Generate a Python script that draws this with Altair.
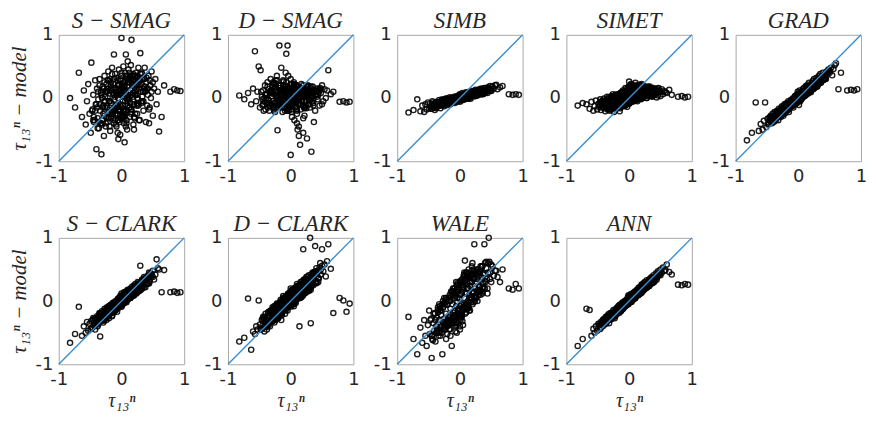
import altair as alt
import pandas as pd

# shared abscissa: normalised true stress tau_13^n (read from the clouds)
tau13 = [
    -.82, -.74, -.68, -.63, -.60, -.57, -.55, -.53, -.51, -.49,
    -.48, -.46, -.45, -.44, -.42, -.41, -.40, -.39, -.38, -.37,
    -.36, -.35, -.34, -.33, -.32, -.31, -.30, -.29, -.28, -.27,
    -.27, -.26, -.25, -.24, -.23, -.22, -.21, -.20, -.20, -.19,
    -.18, -.17, -.16, -.16, -.15, -.14, -.13, -.12, -.12, -.11,
    -.10, -.09, -.08, -.08, -.07, -.06, -.05, -.05, -.04, -.03,
    -.02, -.02, -.01, .00, .00, .01, .02, .02, .03, .04,
    .05, .05, .06, .07, .08, .08, .09, .10, .11, .12,
    .12, .13, .14, .15, .16, .16, .17, .18, .19, .20,
    .21, .22, .23, .24, .25, .26, .27, .28, .29, .30,
    .31, .32, .33, .34, .35, .36, .38, .39, .40, .42,
    .43, .45, .46, .48, .50, .52, .54, .56, .60, .64,
    .78, .84, .89, .94, -.05, .00, .10, -.15, .20, .05,
    -.30, -.25, -.22, -.18, -.14, -.10, -.07, -.04, -.01, .01,
    .03, .06, .09, .11, .14, .17, .20, .23, .26, .30,
    -.35, -.28, -.20, -.12, -.06, .00, .07, .13, .19, .25,
    .33, .37, .41, .47, -.43, -.38, .44, .50, .58, .68,
    -.44, -.40, -.36, -.32, -.29, -.26, -.23, -.21, -.19, -.17,
    -.15, -.13, -.11, -.09, -.08, -.06, -.04, -.03, -.02, .00,
    .01, .02, .04, .05, .07, .08, .10, .11, .13, .15,
    .16, .18, .20, .22, .24, .26, .28, .31, .34, .37,
    -.33, -.27, -.24, -.17, -.13, -.09, -.05, -.01, .03, .06,
    .09, .12, .15, .19, .22, .27, .32, .36, .40, .45,
    -.39, -.31, -.25, -.16, -.10, -.03, .04, .10, .17, .24,
    .29, .35, .42, .48, -.47, -.22, -.07, .02, .14, .21,
    -.42, -.37, -.33, -.30, -.27, -.24, -.22, -.19, -.16, -.14,
    -.12, -.10, -.08, -.06, -.04, -.02, .00, .02, .04, .06,
    .08, .10, .12, .14, .16, .18, .21, .24, .27, .30,
    .33, .36, .40, .44, -.35, -.26, -.18, -.09, -.03, .03,
    .09, .15, .22, .28, .35, -.45, -.31, -.21, -.11, .01,
    .07, .13, .19, .25, .32, .38, -.24, -.14, -.05, .05,
]

s_smag = [
    .00, -.15, .40, -.30, .12, -.42, -.05, .22, -.25, -.55,
    .56, -.18, .05, -.38, .28, -.10, -.81, .15, -.32, -.02,
    -.48, .30, -.20, .08, -.89, -.35, .18, -.12, -.60, .35,
    -.28, .02, -.45, .22, -.15, -.38, .42, -.05, -.22, .12,
    -.52, .25, -.08, -.32, .38, -.18, .05, .69, -.40, .15,
    -.25, .10, -.45, .32, -.12, .20, -.35, .00, .45, -.20,
    .28, -.58, .08, -.15, .35, -.30, .15, -.05, .50, -.40,
    .20, -.22, .40, .69, -.35, .05, .30, -.12, .45, -.02,
    .25, -.30, .12, .52, .92, -.18, .35, .02, -.42, .30,
    .18, -.25, .40, .05, .32, -.10, .48, .15, -.35, .71,
    .22, -.05, .38, .10, -.20, .30, .12, -.38, .25, .05,
    .35, -.15, .20, .42, -.28, .15, .30, -.10, -.53, -.30,
    .10, .14, .12, .11, -.65, .95, .58, .48, -.50, -.70,
    .10, -.40, .28, -.05, -.25, .38, -.15, .22, -.32, .05,
    -.18, .12, -.50, .30, -.08, .20, -.30, .28, .00, .38,
    -.10, .15, -.30, .05, -.55, .18, -.20, .40, .08, -.25,
    .02, .48, -.12, .00, -.35, -.48, -.40, .25, .10, .20,
    -.30, -.10, -.38, .05, -.25, -.15, .10, -.32, -.05, .20,
    -.22, .08, -.35, .15, -.10, .28, -.18, .05, -.28, .12,
    .18, -.12, .25, -.25, .08, .35, -.05, .20, -.15, .30,
    .05, .28, -.10, .35, .15, -.02, .25, .10, .32, .18,
    -.40, -.05, .12, -.30, .22, -.12, .00, .30, -.20, .10,
    -.02, .25, -.18, .38, .10, .20, -.08, .30, .15, .28,
    -.15, -.42, .10, -.22, .02, -.38, .18, .00, .22, -.12,
    .30, -.05, .15, .10, -.20, .15, -.25, .08, -.08, .35,
    -.20, .10, -.40, -.15, .25, -.30, .00, -.45, .15, -.25,
    .30, -.20, .05, -.35, .20, -.10, .40, -.28, .10, -.05,
    -.40, .25, -.15, .35, -.22, .08, -.32, .20, -.12, .28,
    -.05, .15, .32, -.18, .20, -.05, .30, -.42, .12, -.30,
    .35, -.25, .05, -.35, .10, -.35, .00, .28, -.15, .22,
    -.45, .02, .25, -.08, .40, .10, -.12, .15, -.20, -.30,
]

d_smag = [
    .04, -.02, .08, -.10, .15, .74, -.05, .10, .50, -.15,
    .44, .02, -.12, .12, -.06, .20, -.18, .05, -.09, .25,
    -.02, .14, -.20, .08, .30, -.10, .03, .18, -.14, .06,
    .22, -.08, .12, -.16, .04, .35, -.51, .09, -.04, .16,
    .83, -.12, .07, .20, -.03, .12, -.22, .02, .28, -.07,
    .10, -.15, .40, .05, .70, -.05, .18, -.20, .08, .00,
    -.12, .15, -.02, -.90, .22, .04, -.30, .10, -.08, .17,
    -.05, .12, -.35, .06, -.14, .20, .02, -.25, .09, -.08,
    .14, -.45, .03, -.74, .10, -.18, .22, -.03, .08, -.12,
    .05, -.28, .16, -.06, .11, -.64, .02, .19, -.10, .07,
    -.15, .13, -.85, .04, .18, -.08, .10, -.20, .06, .15,
    -.02, .12, -.12, .08, .20, -.05, .14, .00, .44, .06,
    -.06, -.05, -.07, -.06, .83, .30, -.40, .48, -.55, .25,
    .10, -.22, .28, .00, -.10, .15, -.05, .35, .06, -.18,
    .12, -.08, .20, -.50, .04, .14, -.32, .09, .18, -.04,
    -.08, .25, .01, -.14, .09, .12, .05, -.60, .15, .10,
    .02, -.38, .10, .16, -.20, .07, .05, -.10, .12, .10,
    -.10, .05, -.15, .10, -.05, .15, -.12, .02, .20, -.08,
    .05, -.10, .12, -.03, .18, -.15, .08, -.06, .14, .00,
    -.12, .10, -.04, .16, -.08, .06, -.18, .12, .02, -.10,
    .15, -.05, .20, .02, -.12, .10, .04, .16, -.06, .12,
    .08, -.14, .18, -.06, .10, -.20, .02, .12, -.10, .22,
    -.06, .14, .00, .10, -.15, .08, .18, -.02, .06, .10,
    .00, .12, -.08, .06, -.15, .10, .02, -.20, .16, .05,
    -.10, .08, .02, .14, .10, .00, .25, -.12, .06, -.05,
    .00, .18, -.12, .08, -.18, .22, .04, -.08, .12, -.15,
    .20, -.04, .10, -.18, .15, .05, -.12, .22, -.06, .12,
    -.15, .08, .18, -.10, .02, .16, -.14, .06, .20, -.02,
    .10, -.12, .04, .14, -.04, .24, -.10, .18, -.20, .08,
    -.08, .12, -.16, .04, .10, -.02, .12, -.14, .26, -.22,
    .16, -.02, .06, -.16, .00, .10, .28, .06, -.10, .20,
]

simb = [
    -.23, -.19, -.02, -.21, -.12, -.22, -.10, -.18, -.07, -.16,
    -.09, -.17, -.12, -.05, -.15, -.11, -.19, -.08, -.13, -.06,
    -.14, -.07, -.11, -.03, -.09, -.16, -.06, -.10, -.02, -.12,
    -.08, -.03, -.13, -.05, -.09, -.01, -.07, -.11, -.04, -.06,
    -.02, -.08, -.05, .01, -.10, -.03, -.06, .00, -.07, -.02,
    -.05, .02, -.03, -.08, .01, -.04, -.01, -.06, .03, -.02,
    .04, -.03, .01, -.06, .06, .00, -.04, .03, -.01, .08,
    .02, -.03, .05, .00, .07, -.02, .04, .09, .01, .05,
    .08, .00, .05, .10, .02, .06, -.01, .07, .11, .04,
    .09, .03, .11, .06, .13, .04, .08, .12, .05, .10,
    .14, .07, .10, .15, .06, .12, .09, .16, .11, .13,
    .10, .17, .13, .19, .12, .18, .15, .20, .14, .17,
    .06, .05, .06, .05, -.04, .02, .05, -.06, .08, .00,
    -.05, -.10, -.02, -.07, -.01, -.04, .02, -.05, .03, -.02,
    .03, .06, -.01, .07, .02, .09, .05, .10, .04, .11,
    -.12, -.04, -.09, .00, -.05, .05, .01, .06, .09, .05,
    .12, .06, .16, .15, -.07, -.16, .08, .11, .21, .19,
    -.12, -.09, -.13, -.06, -.10, -.04, -.08, -.03, -.07, -.02,
    -.06, -.01, -.05, .00, -.04, .01, -.03, .02, -.02, .03,
    -.01, .04, .00, .05, .01, .06, .02, .07, .03, .08,
    .02, .07, .04, .09, .05, .10, .06, .12, .08, .13,
    -.11, -.05, -.09, -.06, -.01, -.05, .00, -.03, .04, .01,
    .04, .01, .06, .03, .08, .05, .10, .07, .12, .11,
    -.08, -.12, -.03, -.09, -.02, .00, .02, .00, .06, .03,
    .11, .08, .14, .13, -.14, -.06, -.05, .03, .01, .08,
    -.15, -.08, -.12, -.05, -.10, -.03, -.09, -.02, -.08, -.01,
    -.06, .00, -.05, .01, -.04, .02, -.03, .04, -.02, .05,
    -.01, .06, .00, .07, .02, .08, .03, .10, .05, .11,
    .06, .13, .08, .15, -.12, -.04, -.09, .00, -.04, .04,
    .06, .00, .09, .04, .13, -.17, -.06, -.01, -.06, .02,
    .05, -.01, .08, .03, .12, .07, -.09, -.02, -.04, .00,
]

simet = [
    -.12, -.08, -.10, -.17, -.06, -.20, -.13, -.04, -.18, -.09,
    -.14, -.02, -.19, -.10, -.06, -.15, -.01, -.12, -.21, -.07,
    -.03, -.16, -.09, -.13, .01, -.20, -.06, -.11, .03, -.15,
    -.08, -.01, -.14, -.22, -.05, .04, -.10, -.17, .02, -.07,
    -.12, .06, -.03, -.09, .00, -.16, .08, -.05, -.11, .03,
    -.06, .10, -.01, -.13, .05, -.08, .14, -.03, .01, -.10,
    .07, -.05, .17, .02, -.09, .11, .04, -.02, .21, .00,
    .09, -.06, .13, .03, .18, -.01, .08, .24, .05, -.03,
    .12, .02, .16, .07, -.02, .10, .19, .04, .14, .01,
    .08, .15, .03, .11, .17, .06, .13, .00, .10, .16,
    .05, .12, .18, .08, .14, .03, .11, .16, .07, .13,
    .09, .15, .04, .12, .10, .14, .06, .11, .08, .13,
    .02, .03, .01, .02, -.10, .26, .20, -.21, .22, .16,
    -.02, -.12, .05, -.07, -.14, .03, -.04, .12, -.08, .06,
    -.04, .08, .15, -.01, .06, .20, .09, .02, .12, .05,
    .02, -.18, -.07, .09, -.12, -.06, .15, -.05, .09, .18,
    .15, .02, .07, .16, -.05, -.13, .10, .03, .09, .05,
    -.15, -.05, -.11, -.18, -.02, -.09, -.14, .00, -.07, -.12,
    .04, -.08, -.01, -.12, .07, -.04, .11, -.07, .02, .15,
    -.03, .09, .00, .13, -.05, .06, .17, .02, .10, .05,
    .13, -.01, .09, .15, .04, .12, .07, .15, .10, .06,
    -.12, -.04, -.16, .00, -.08, .06, -.02, .09, -.06, .19,
    .02, .11, .06, .12, .00, .09, .13, .06, .10, .12,
    -.08, -.14, .02, -.06, .03, .08, -.04, .12, .04, .09,
    .03, .10, .06, .09, -.11, -.03, -.09, .14, .08, .14,
    -.04, -.13, -.01, -.10, .02, -.15, -.03, .05, -.12, .08,
    -.07, .12, -.02, .16, -.09, .05, .19, -.05, .10, -.04,
    .14, -.02, .18, .06, .21, .00, .12, .17, .03, .18,
    .10, .04, .14, .01, -.18, .06, -.06, .02, -.14, .22,
    -.04, .08, .20, .00, .16, -.06, -.15, .05, -.12, -.08,
    .12, .06, -.02, .15, .09, .04, -.12, .04, -.09, .10,
]

grad = [
    -.67, -.55, -.07, -.52, -.41, -.50, -.36, -.07, -.46, -.33,
    -.42, -.31, -.36, -.28, -.40, -.25, -.34, -.38, -.22, -.35,
    -.24, -.33, -.20, -.29, -.35, -.17, -.27, -.21, -.30, -.15,
    -.26, -.13, -.21, -.28, -.16, -.10, -.24, -.19, -.09, -.20,
    -.08, -.19, -.12, -.05, -.22, -.10, -.15, -.03, -.13, -.06,
    -.12, -.01, -.09, -.15, -.04, .02, -.10, -.06, .04, -.03,
    .05, -.08, .10, -.02, .07, -.11, .03, .12, -.05, .08,
    .10, -.02, .06, .14, .02, .09, .16, .05, .12, .19,
    .06, .18, .11, .21, .08, .15, .24, .12, .17, .09,
    .22, .14, .27, .19, .30, .16, .25, .21, .32, .18,
    .29, .23, .35, .27, .38, .24, .33, .40, .28, .36,
    .31, .42, .37, .45, .40, .48, .36, .46, .55, .14,
    .12, .13, .12, .14, -.08, .06, .03, -.18, .13, .09,
    -.29, -.18, -.23, -.11, -.16, -.05, -.09, .01, -.03, .04,
    .00, .08, .11, .04, .13, .19, .12, .23, .17, .26,
    -.31, -.26, -.14, -.07, -.02, .01, .10, .13, .20, .18,
    .30, .33, .31, .41, -.32, -.29, .39, .43, .52, .40,
    -.38, -.30, -.33, -.22, -.27, -.18, -.22, -.14, -.19, -.12,
    -.15, -.07, -.12, -.04, -.09, -.02, -.06, .01, -.05, .03,
    -.03, .05, .00, .07, .02, .10, .05, .12, .08, .15,
    .10, .17, .13, .20, .16, .23, .19, .27, .24, .32,
    -.28, -.19, -.24, -.11, -.14, -.04, -.08, .02, -.01, .08,
    .04, .13, .08, .18, .14, .25, .22, .31, .29, .39,
    -.34, -.22, -.23, -.08, -.11, .02, -.02, .11, .10, .22,
    .20, .31, .30, .42, -.41, -.14, -.03, .04, .09, .15,
    -.30, -.35, -.22, -.29, -.17, -.24, -.12, -.20, -.08, -.15,
    -.05, -.13, -.02, -.09, .01, -.06, .04, -.04, .08, .00,
    .11, .04, .15, .06, .18, .10, .21, .14, .26, .19,
    .31, .25, .36, .30, -.22, -.26, -.10, -.12, .03, -.02,
    .12, .08, .23, .19, .32, -.31, -.20, -.22, -.05, .05,
    .02, .15, .11, .23, .22, .34, -.15, -.16, .03, .01,
]

s_clark = [
    -.66, -.52, -.09, -.55, -.40, -.50, -.33, -.47, -.36, -.44,
    -.31, -.42, -.27, -.38, -.45, -.30, -.35, -.24, -.40, -.28,
    -.33, -.19, -.56, -.25, -.30, -.16, -.27, -.34, -.20, -.23,
    -.12, -.26, -.18, -.30, -.10, -.22, -.16, -.27, -.08, -.19,
    -.20, -.06, -.15, -.11, -.24, -.03, -.13, -.18, -.07, -.10,
    -.14, .00, -.09, -.04, -.17, .03, -.07, -.11, .05, -.02,
    .08, -.06, .02, .12, -.09, .05, -.03, .10, .00, .14,
    .01, .11, .07, .15, -.02, .09, .13, .04, .17, .06,
    .14, .05, .19, .10, .22, .08, .16, .12, .24, .11,
    .20, .27, .13, .23, .18, .30, .15, .26, .21, .56,
    .28, .19, .34, .26, .31, .38, .22, .35, .29, .40,
    .37, .31, .44, .39, .48, .34, .42, .66, .50, .14,
    .14, .15, .13, .14, -.01, -.08, .18, -.23, .09, .02,
    -.30, -.15, -.21, -.07, -.12, -.05, -.10, .02, -.04, .06,
    .06, .01, .10, .14, .07, .17, .22, .13, .25, .20,
    -.24, -.31, -.13, -.02, -.06, -.01, .08, .16, .12, .25,
    .27, .33, .36, .41, -.37, -.26, .45, .38, .52, .49,
    -.39, -.28, -.34, -.20, -.28, -.16, -.22, -.12, -.20, -.09,
    -.17, -.06, -.13, -.02, -.10, .00, -.08, .04, -.05, .06,
    -.04, .07, .00, .09, .02, .12, .04, .14, .07, .17,
    .09, .19, .12, .22, .15, .25, .18, .29, .23, .34,
    -.31, -.17, -.25, -.09, -.15, -.03, -.09, .05, -.02, .10,
    .03, .15, .08, .20, .13, .27, .21, .33, .27, .41,
    -.36, -.20, -.24, -.06, -.12, .03, -.03, .13, .08, .24,
    .17, .32, .28, .43, -.42, -.13, -.01, .06, .05, .21,
    -.28, -.37, -.20, -.30, -.16, -.24, -.12, -.21, -.07, -.17,
    -.03, -.14, .00, -.09, .03, -.07, .06, -.05, .09, -.01,
    .12, .02, .16, .05, .19, .09, .23, .12, .28, .17,
    .33, .22, .38, .28, -.20, -.28, -.08, -.14, .05, -.04,
    .13, .06, .24, .16, .34, -.29, -.18, -.24, -.03, .05,
    .00, .16, .09, .25, .19, .36, -.12, -.18, .04, -.01,
]

d_clark = [
    -.64, -.58, .04, -.77, -.48, -.52, -.40, -.45, .01, -.37,
    -.44, -.30, -.39, -.25, -.48, -.33, -.20, -.41, -.29, -.36,
    -.18, -.34, -.24, -.40, -.15, -.29, -.22, -.10, -.31, -.26,
    -.25, -.08, -.19, -.30, -.12, -.04, -.22, -.16, -.27, -.09,
    -.03, -.18, -.10, .02, -.21, -.07, -.14, .05, -.11, -.01,
    -.12, .04, -.08, -.15, .07, -.02, -.10, .10, -.05, .01,
    .12, -.06, .05, .15, -.09, .08, -.02, .18, .03, .10,
    .02, .16, .09, .21, -.03, .12, .19, .06, .24, .11,
    .08, .22, -.40, .17, .27, .12, .20, .31, .15, .82,
    .26, .18, .33, .22, .38, .15, .30, .25, .41, .20,
    1.0, -.35, .37, .28, .44, .33, .46, .87, .31, .40,
    .48, .36, .53, .42, .82, .47, .58, .39, .90, .51,
    .05, .01, -.17, -.04, -.15, .20, .27, -.30, .10, -.08,
    -.15, -.23, -.06, -.20, .00, -.13, .06, -.07, .11, -.03,
    .14, .00, .17, .05, .25, .10, .29, .16, .34, .22,
    -.38, -.14, -.24, .08, -.04, .14, .03, .20, .26, .35,
    .30, .45, .52, .60, -.28, -.45, .36, .56, .63, -.19,
    -.42, -.28, -.35, -.19, -.30, -.13, -.24, -.08, -.22, -.06,
    -.18, -.02, -.14, .02, -.11, .05, -.08, .09, -.04, .11,
    -.05, .13, -.01, .15, .03, .18, .05, .20, .08, .24,
    .08, .25, .13, .29, .16, .31, .20, .36, .26, .42,
    -.33, -.16, -.28, -.06, -.17, .00, -.10, .10, -.02, .14,
    .02, .19, .08, .25, .12, .33, .22, .40, .28, .47,
    -.38, -.19, -.27, -.03, -.14, .07, -.05, .18, .06, .30,
    .16, .38, .29, .50, -.45, -.11, .01, .10, .05, .27,
    -.25, -.40, -.16, -.33, -.11, -.29, -.07, -.25, -.01, -.19,
    .04, -.14, .07, -.10, .12, -.05, .15, -.03, .19, .02,
    .20, .03, .24, .07, .30, .10, .34, .13, .39, .18,
    .42, .25, .47, .30, -.17, -.34, -.03, -.20, .10, -.06,
    .22, .05, .33, .17, .45, -.29, -.15, -.27, .02, .09,
    -.02, .24, .08, .33, .18, .44, -.09, -.22, .08, -.03,
]

wale = [
    -.25, -.60, -.84, -.42, -.66, -.30, -.55, -.71, -.38, -.15,
    -.52, -.28, -.90, -.60, -.35, -.47, -.19, -.64, -.40, -.26,
    -.45, -.14, -.55, -.30, -.08, -.41, -.22, -.50, -.84, -.33,
    -.10, -.38, -.28, -.02, -.45, -.20, -.32, -.06, -.52, -.25,
    -.35, .02, -.22, -.44, -.12, .08, -.71, -.27, -.05, -.18,
    .12, -.30, -.15, .05, -.40, -.08, .18, -.22, -.01, -.35,
    -.12, .20, .04, -.28, .10, -.18, .25, -.05, .15, -.32,
    .22, -.10, .30, .05, .64, -.20, .14, .35, -.06, .20,
    .28, .00, .38, .10, -.15, .24, .42, .06, .31, .15,
    .12, .36, .90, .20, .45, .05, .30, .50, .18, .40,
    .25, .48, .15, .38, .55, .22, .44, .90, .32, .52,
    .35, .60, 1.0, .45, .30, .55, .40, .48, .38, .30,
    .20, .18, .27, .20, -.50, -.40, .45, -.55, .60, -.38,
    -.15, -.45, .05, -.38, .15, -.25, -.48, .28, -.20, .32,
    -.22, .40, -.08, .12, .50, .02, -.05, .35, .10, .15,
    -.18, -.05, -.40, .15, .30, -.45, .45, -.12, .55, .05,
    .10, .42, .30, .62, -.62, -.50, .12, .58, .48, .50,
    -.55, -.20, -.48, -.12, -.40, -.05, -.35, .02, -.30, -.45,
    .00, -.30, .10, -.22, .15, -.38, .05, -.15, .22, -.08,
    -.25, .12, -.15, .28, -.05, .32, -.18, .20, .38, -.02,
    .30, .05, .40, .15, .48, .08, .35, .22, .50, .28,
    -.50, -.10, -.42, .00, -.32, .10, -.25, .18, -.12, .25,
    -.10, .40, .05, .30, -.02, .42, .15, .55, .20, .45,
    -.30, -.55, .05, -.30, .20, -.20, .30, -.10, .40, .00,
    .45, .15, .62, .35, -.30, -.60, .08, -.22, .20, .35,
    -.20, -.50, -.05, -.45, .00, -.40, .05, -.35, .10, -.30,
    .15, -.25, .20, -.35, .25, -.15, .30, -.20, .35, -.10,
    .40, -.05, .45, -.10, .38, -.02, .42, .05, .50, .10,
    .55, .12, .60, .20, -.10, -.45, .05, -.35, .15, -.25,
    .35, -.15, .50, .00, .55, -.55, -.15, -.05, .20, -.30,
    .42, -.10, .48, .08, .45, .20, -.05, -.35, .25, -.15,
]

ann = [
    -.71, -.60, -.12, -.14, -.55, -.44, -.50, -.40, -.47, -.36,
    -.38, -.44, -.33, -.41, -.30, -.39, -.28, -.36, -.32, -.25,
    -.33, -.24, -.30, -.21, -.35, -.26, -.19, -.29, -.22, -.27,
    -.18, -.25, -.14, -.22, -.27, -.15, -.20, -.11, -.21, -.13,
    -.17, -.08, -.14, -.19, -.06, -.12, -.16, -.04, -.10, -.13,
    -.02, -.11, -.05, -.09, .00, -.07, -.01, -.06, .02, -.04,
    .06, -.03, .09, .01, .05, -.02, .08, .03, .11, .04,
    .03, .10, .07, .13, .05, .11, .15, .08, .13, .17,
    .11, .18, .14, .21, .12, .19, .16, .23, .15, .20,
    .25, .19, .28, .22, .30, .24, .27, .33, .23, .31,
    .27, .34, .30, .36, .32, .38, .29, .41, .35, .37,
    .44, .38, .47, .42, .50, .45, .53, .48, .58, .46,
    .26, .25, .27, .26, -.06, .08, .05, -.17, .26, .04,
    -.22, -.19, -.24, -.10, -.15, -.08, -.03, .00, -.05, .06,
    .01, .09, .04, .14, .10, .17, .13, .22, .26, .25,
    -.27, -.20, -.13, -.14, -.02, .02, .04, .16, .21, .19,
    .31, .29, .37, .43, -.35, -.34, .40, .41, .49, .42,
    -.36, -.32, -.34, -.24, -.27, -.20, -.23, -.15, -.19, -.12,
    -.15, -.08, -.12, -.05, -.09, -.02, -.06, .01, -.03, .03,
    -.01, .05, .02, .08, .04, .10, .06, .13, .10, .16,
    .12, .18, .15, .22, .19, .25, .22, .30, .27, .34,
    -.30, -.20, -.24, -.12, -.14, -.05, -.07, .03, -.01, .08,
    .05, .13, .10, .19, .16, .26, .24, .33, .30, .40,
    -.35, -.24, -.24, -.10, -.12, .00, -.01, .12, .11, .23,
    .22, .32, .33, .43, -.42, -.16, -.04, .05, .10, .17,
    -.32, -.36, -.24, -.29, -.20, -.23, -.15, -.19, -.11, -.15,
    -.07, -.12, -.03, -.08, .00, -.05, .05, -.02, .07, .02,
    .10, .06, .14, .09, .17, .13, .21, .18, .26, .23,
    .31, .28, .37, .34, -.26, -.25, -.12, -.11, .02, -.01,
    .11, .10, .22, .21, .33, -.36, -.23, -.20, -.06, .04,
    .03, .14, .13, .25, .24, .35, -.17, -.15, .01, .02,
]

row1_names = ["S  −  SMAG", "D  −  SMAG", "SIMB", "SIMET", "GRAD"]
row1_values = [s_smag, d_smag, simb, simet, grad]
row2_names = ["S  −  CLARK", "D  −  CLARK", "WALE", "ANN"]
row2_values = [s_clark, d_clark, wale, ann]

diag = [-1, 1]
ticks = [-1, 0, 1]

Y_TITLE = "τ₁₃ⁿ − model"
X_TITLE = "τ₁₃ⁿ"

LABEL_EXPR = "(datum.value < 0 ? '-' : '') + format(abs(datum.value), 'd')"

W = 126
H = 127


def panel(name, values, y_title, x_title):
    pts_df = pd.DataFrame({"x": tau13, "y": values})
    line_df = pd.DataFrame({"x": diag, "y": diag})
    xscale = alt.Scale(domain=[-1, 1], nice=False, zero=False)
    yscale = alt.Scale(domain=[-1, 1], nice=False, zero=False)
    xaxis = alt.Axis(values=ticks, labelExpr=LABEL_EXPR, titlePadding=2,
                     titleFontSize=20)
    yaxis = alt.Axis(values=ticks, labelExpr=LABEL_EXPR, titlePadding=5,
                     titleFontSize=21)
    xenc = alt.X("x:Q", scale=xscale, axis=xaxis, title=x_title)
    yenc = alt.Y("y:Q", scale=yscale, axis=yaxis, title=y_title)
    pts = alt.Chart(pts_df).mark_point(
        shape="circle", filled=False, color="#000000", size=27,
        strokeWidth=1.4, opacity=0.88,
    ).encode(x=xenc, y=yenc)
    line = alt.Chart(line_df).mark_line(
        color="#3a8dce", strokeWidth=1.4
    ).encode(x=xenc, y=yenc)
    return alt.layer(pts, line).properties(
        width=W, height=H,
        title=alt.TitleParams(
            text=name, font="Liberation Serif", fontStyle="italic",
            fontWeight="normal", fontSize=23, color="#262626", offset=-7,
        ),
    )


row1 = alt.hconcat(
    *[panel(n, v, Y_TITLE if i == 0 else None, None)
      for i, (n, v) in enumerate(zip(row1_names, row1_values))],
    spacing=12,
)
row2 = alt.hconcat(
    *[panel(n, v, Y_TITLE if i == 0 else None, X_TITLE)
      for i, (n, v) in enumerate(zip(row2_names, row2_values))],
    spacing=12,
)

chart = alt.vconcat(row1, row2, spacing=26).properties(
    padding={"left": 0, "top": 0, "right": 0, "bottom": 0}
).configure_view(
    stroke="#a8a8a8", strokeWidth=1
).configure_axis(
    grid=False, domain=False, ticks=False, tickSize=0,
    labelFont="DejaVu Sans", labelFontSize=18, labelColor="#262626",
    labelPadding=6, labelFlush=False,
    titleFont="Liberation Serif", titleFontStyle="italic",
    titleFontWeight="normal", titleColor="#262626",
).configure_title(anchor="middle")

chart.save("out.html", embed_options={"renderer": "svg", "actions": False})
